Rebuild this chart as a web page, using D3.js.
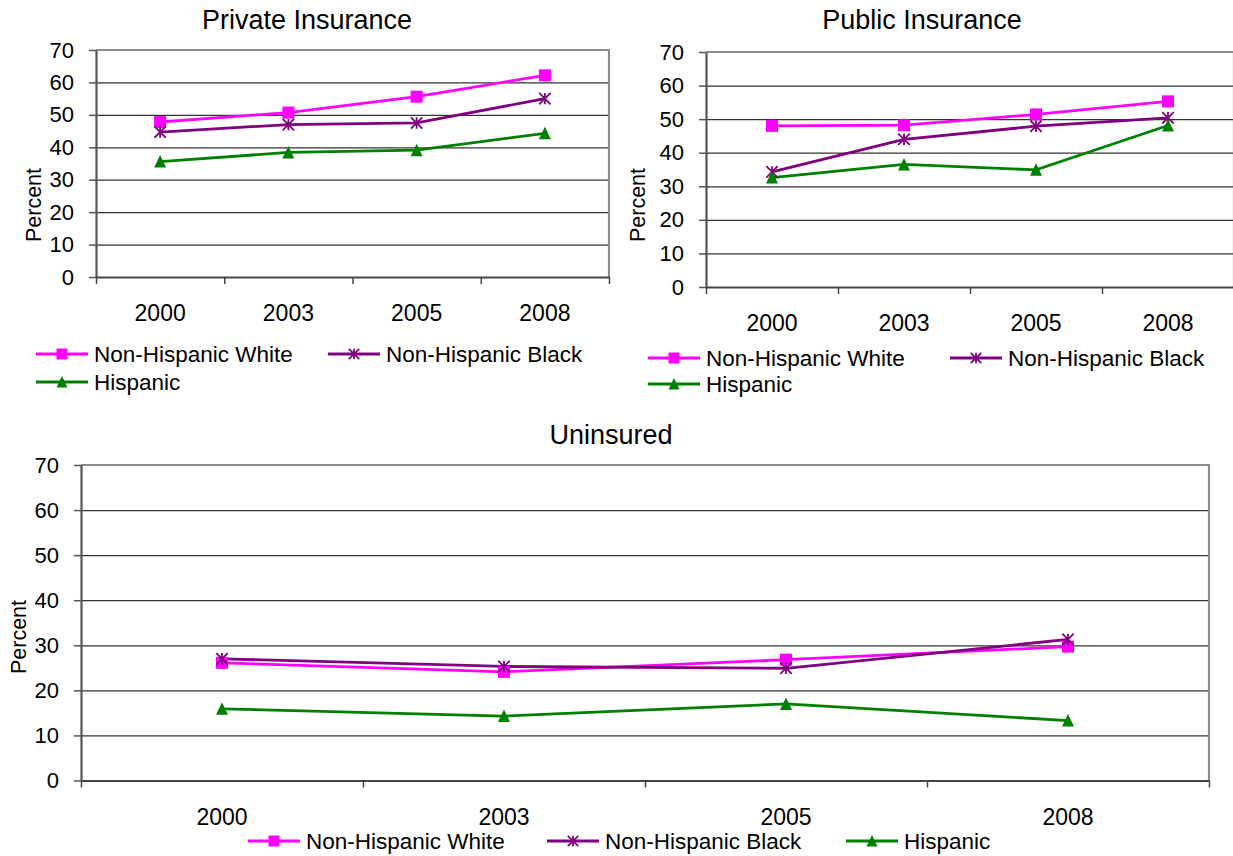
<!DOCTYPE html>
<html>
<head>
<meta charset="utf-8">
<script src="https://cdn.jsdelivr.net/npm/d3@7/dist/d3.min.js"></script>
<style>
  html, body { margin: 0; padding: 0; background: #fff; }
  svg { display: block; }
  text { font-family: "Liberation Sans", Arial, sans-serif; fill: #000; }
</style>
</head>
<body>
<svg id="chart" width="1233" height="856"></svg>
<script>
// Survey years (categories) and y-axis ticks
const years = ["2000", "2003", "2005", "2008"];
const yTicks = [0, 10, 20, 30, 40, 50, 60, 70];
const seriesNames = ["Non-Hispanic White", "Non-Hispanic Black", "Hispanic"];

// Private insurance, percent
const privateWhite    = [47.8, 50.7, 55.6, 62.2];
const privateBlack    = [44.7, 47.0, 47.5, 55.0];
const privateHispanic = [35.6, 38.4, 39.1, 44.3];

// Public insurance, percent
const publicWhite    = [48.0, 48.2, 51.4, 55.3];
const publicBlack    = [34.3, 44.0, 47.9, 50.4];
const publicHispanic = [32.6, 36.5, 34.9, 48.1];

// Uninsured, percent
const uninsWhite    = [26.1, 24.1, 26.8, 29.7];
const uninsBlack    = [27.0, 25.3, 24.9, 31.3];
const uninsHispanic = [15.9, 14.3, 17.0, 13.3];

const seriesStyle = [
  { color: "#ff00ff", marker: "square" },
  { color: "#800080", marker: "star" },
  { color: "#008000", marker: "triangle" }
];

const svg = d3.select("#chart");

function drawMarker(sel, type, color, size) {
  const h = size / 2;
  if (type === "square") {
    sel.append("rect")
      .attr("x", -h).attr("y", -h).attr("width", size).attr("height", size)
      .attr("fill", color);
  } else if (type === "triangle") {
    sel.append("path")
      .attr("d", `M0,${-h - 0.5}L${h},${h}L${-h},${h}Z`)
      .attr("fill", color);
  } else {
    const r = h * 0.95;
    sel.append("path")
      .attr("d", `M0,${-r}L0,${r}M${-r},${-r}L${r},${r}M${-r},${r}L${r},${-r}`)
      .attr("stroke", color).attr("stroke-width", 1.8).attr("fill", "none");
  }
}

function drawPanel(p) {
  const g = svg.append("g");
  const x = d3.scaleBand().domain(years).range([p.left, p.right]);
  const edges = d3.scaleLinear().domain([0, years.length]).range([p.left, p.right]);
  const y = d3.scaleLinear().domain([0, 70]).range([p.bottom, p.top]);
  const w = p.right - p.left;

  // Title
  g.append("text")
    .attr("x", p.titleX).attr("y", p.titleY)
    .attr("text-anchor", "middle")
    .style("font-size", "27px")
    .text(p.title);

  // Horizontal gridlines
  g.append("g")
    .attr("transform", `translate(${p.left},0)`)
    .call(d3.axisLeft(y).tickValues(yTicks.filter(v => v > 0 && v < 70))
      .tickSize(-w).tickFormat(""))
    .call(s => s.select(".domain").remove())
    .selectAll("line").attr("stroke", "#333").attr("stroke-width", 1.2);

  // Top and right frame
  g.append("path")
    .attr("d", `M${p.left},${y(70)}H${p.right}V${p.bottom}`)
    .attr("fill", "none").attr("stroke", "#8c8c8c").attr("stroke-width", 2.2);

  // Y axis with labels
  const yAxis = g.append("g")
    .attr("transform", `translate(${p.left},0)`)
    .call(d3.axisLeft(y).tickValues(yTicks).tickSize(7).tickSizeOuter(0).tickPadding(15));
  yAxis.select(".domain").attr("stroke", "#555").attr("stroke-width", 2.2);
  yAxis.selectAll(".tick line").attr("stroke", "#555").attr("stroke-width", 1.5);
  yAxis.selectAll("text").style("font-size", "22px").attr("fill", "#000");

  // X axis tick marks at category boundaries
  const xEdges = g.append("g")
    .attr("transform", `translate(0,${p.bottom})`)
    .call(d3.axisBottom(edges).tickValues(d3.range(years.length + 1))
      .tickSize(7).tickSizeOuter(0).tickFormat(""));
  xEdges.select(".domain").attr("stroke", "#444").attr("stroke-width", 2.2);
  xEdges.selectAll(".tick line").attr("stroke", "#444").attr("stroke-width", 1.5);

  // X axis category labels
  const xAxis = g.append("g")
    .attr("transform", `translate(0,${p.bottom})`)
    .call(d3.axisBottom(x).tickSize(0).tickPadding(p.labelGap));
  xAxis.select(".domain").remove();
  xAxis.selectAll("text").style("font-size", "23px").attr("fill", "#000");

  // Y axis title
  g.append("text")
    .attr("transform", `translate(${p.ylabX},${p.ylabY}) rotate(-90)`)
    .attr("text-anchor", "middle")
    .style("font-size", "21.5px")
    .text("Percent");

  // Series lines and markers
  const line = d3.line().x((d, i) => x(years[i]) + x.bandwidth() / 2).y(d => y(d));
  p.series.forEach((vals, si) => {
    const st = seriesStyle[si];
    g.append("path").datum(vals)
      .attr("d", line)
      .attr("fill", "none").attr("stroke", st.color).attr("stroke-width", 2.8);
  });
  p.series.forEach((vals, si) => {
    const st = seriesStyle[si];
    vals.forEach((v, i) => {
      const m = g.append("g")
        .attr("transform", `translate(${x(years[i]) + x.bandwidth() / 2},${y(v)})`);
      drawMarker(m, st.marker, st.color, 12);
    });
  });

  // Legend
  p.legend.forEach((pos, si) => {
    const st = seriesStyle[si];
    const lg = g.append("g").attr("transform", `translate(${pos[0]},${pos[1]})`);
    lg.append("line").attr("x1", 0).attr("x2", 52).attr("y1", 0).attr("y2", 0)
      .attr("stroke", st.color).attr("stroke-width", 2.8);
    const m = lg.append("g").attr("transform", "translate(26,0)");
    drawMarker(m, st.marker, st.color, 11);
    lg.append("text").attr("x", 58).attr("y", 0).attr("dy", "0.35em")
      .style("font-size", "22.5px")
      .text(seriesNames[si]);
  });
}

drawPanel({
  title: "Private Insurance", titleX: 307, titleY: 29,
  left: 96, right: 609, top: 50, bottom: 277, labelGap: 28,
  ylabX: 41, ylabY: 205,
  series: [privateWhite, privateBlack, privateHispanic],
  legend: [[36, 354], [328, 354], [36, 382]]
});

drawPanel({
  title: "Public Insurance", titleX: 922, titleY: 29,
  left: 706, right: 1234, top: 52, bottom: 287, labelGap: 28,
  ylabX: 645, ylabY: 205,
  series: [publicWhite, publicBlack, publicHispanic],
  legend: [[648, 358], [950, 358], [648, 384]]
});

drawPanel({
  title: "Uninsured", titleX: 611, titleY: 444,
  left: 81, right: 1209, top: 465, bottom: 780.5, labelGap: 28,
  ylabX: 26, ylabY: 637,
  series: [uninsWhite, uninsBlack, uninsHispanic],
  legend: [[248, 841], [547, 841], [846, 841]]
});
</script>
</body>
</html>
